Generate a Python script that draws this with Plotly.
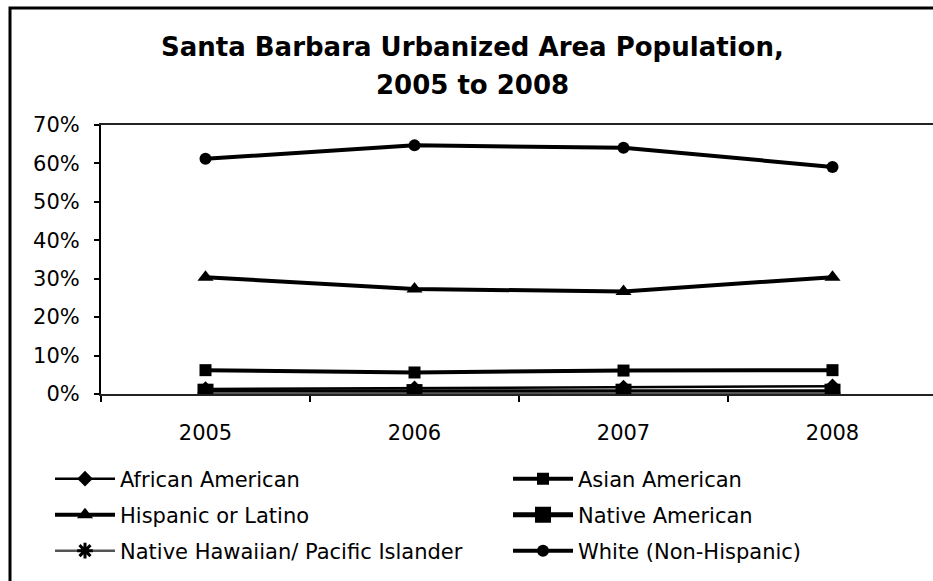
import plotly.graph_objects as go

# Share of the urbanized-area population by group, in percent
years = [2005, 2006, 2007, 2008]
african_american = [1.3, 1.5, 1.7, 2.0]
asian_american = [6.2, 5.6, 6.1, 6.2]
hispanic_latino = [30.4, 27.3, 26.7, 30.4]
native_american = [0.6, 0.5, 0.6, 0.6]
native_hawaiian = [0.2, 0.1, 0.2, 0.2]
white_non_hispanic = [61.2, 64.7, 64.1, 59.1]

y_ticks = [0, 10, 20, 30, 40, 50, 60, 70]
y_tick_text = [f"{v}%" for v in y_ticks]

W, H = 933, 581
L, R, T, B = 101, 0, 125, 187
plot_w = W - L - R
plot_h = H - T - B

FONT = "DejaVu Sans"
BLACK = "#000000"
LABEL_SIZE = 21


# pixel -> paper helpers for placing the legend entries, title and frame
def px_x(px):
    return (px - L) / plot_w


def px_y(py):
    return (H - B - py) / plot_h


# legend entries sit in two columns and three rows
col_x = [50, 508]
row_y = [479, 515, 551]

series = [
    ("African American", african_american, "diamond", 12, 2.5, BLACK),
    ("Asian American", asian_american, "square", 12, 4, BLACK),
    ("Hispanic or Latino", hispanic_latino, "triangle-up", 14, 4, BLACK),
    ("Native American", native_american, "square", 16, 5, BLACK),
    ("Native Hawaiian/ Pacific Islander", native_hawaiian, "asterisk-open", 13, 2.5, "#555555"),
    ("White (Non-Hispanic)", white_non_hispanic, "circle", 12, 4, BLACK),
]

fig = go.Figure()
legends = {}
for i, (name, vals, sym, size, lw, col) in enumerate(series):
    marker = dict(symbol=sym, size=size, color=BLACK)
    if sym.endswith("-open"):
        marker["line"] = dict(color=BLACK, width=3)
    leg_id = "legend" if i == 0 else f"legend{i + 1}"
    fig.add_trace(go.Scatter(
        x=years, y=vals, name=name, mode="lines+markers",
        line=dict(color=col, width=lw),
        marker=marker, legend=leg_id,
    ))
    legends[leg_id] = dict(
        orientation="h", xanchor="left", yanchor="middle",
        x=px_x(col_x[i % 2]), y=px_y(row_y[i // 2]),
        font=dict(family=FONT, size=LABEL_SIZE, color=BLACK),
        itemwidth=60, bgcolor="rgba(0,0,0,0)", borderwidth=0,
    )

span_units = plot_w / 209.0

fig.update_layout(
    width=W, height=H,
    margin=dict(l=L, r=R, t=T, b=B, pad=0),
    paper_bgcolor="white", plot_bgcolor="white",
    showlegend=True,
    xaxis=dict(
        range=[2004.5, 2004.5 + span_units],
        tickvals=years, ticktext=[str(y) for y in years],
        ticks="", showgrid=False, zeroline=False,
        showline=True, linecolor="#222222", linewidth=2, mirror=True,
        tickfont=dict(family=FONT, size=LABEL_SIZE, color=BLACK),
        ticklabelstandoff=19,
        minor=dict(ticks="outside", tick0=2004.5, dtick=1, ticklen=6,
                   tickwidth=1.5, tickcolor=BLACK, showgrid=False),
    ),
    yaxis=dict(
        range=[0, 70], tickmode="array", tickvals=y_ticks, ticktext=y_tick_text,
        ticks="outside", ticklen=5, tickwidth=1.5, tickcolor=BLACK,
        showgrid=False, zeroline=False,
        showline=True, linecolor=BLACK, linewidth=2,
        tickfont=dict(family=FONT, size=LABEL_SIZE, color=BLACK),
        ticklabelstandoff=10,
    ),
    annotations=[
        dict(text="<b>Santa Barbara Urbanized Area Population,</b>",
             xref="paper", yref="paper", x=px_x(472), y=px_y(47),
             xanchor="center", yanchor="middle", showarrow=False,
             font=dict(family=FONT, size=26, color=BLACK)),
        dict(text="<b>2005 to 2008</b>",
             xref="paper", yref="paper", x=px_x(472), y=px_y(85),
             xanchor="center", yanchor="middle", showarrow=False,
             font=dict(family=FONT, size=26, color=BLACK)),
    ],
    shapes=[dict(
        type="rect", xref="paper", yref="paper", layer="above",
        x0=px_x(10), x1=px_x(W + 20), y0=px_y(H + 20), y1=px_y(8),
        line=dict(color=BLACK, width=3), fillcolor="rgba(0,0,0,0)",
    )],
    **legends,
)

fig.write_html("out.html")
